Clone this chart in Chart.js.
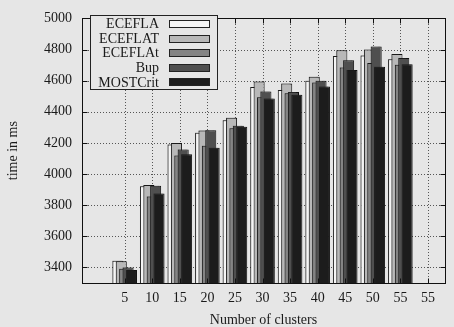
<!DOCTYPE html>
<html>
<head>
<meta charset="utf-8">
<script src="https://cdn.jsdelivr.net/npm/chart.js@4"></script>
<style>
  html, body { margin: 0; padding: 0; background: #e6e6e6; }
  canvas { display: block; }
</style>
</head>
<body>
<canvas id="myChart" width="454" height="327"></canvas>
<script>
const clusters = [5, 10, 15, 20, 25, 30, 35, 40, 45, 50, 55];
// the original plot repeats 55 on the last tick
const xTickLabels = ['5', '10', '15', '20', '25', '30', '35', '40', '45', '50', '55', '55'];
const yTicks = [3400, 3600, 3800, 4000, 4200, 4400, 4600, 4800, 5000];

const seriesNames = ['ECEFLA', 'ECEFLAT', 'ECEFLAt', 'Bup', 'MOSTCrit'];
const ecefla   = [3443, 3922, 4190, 4265, 4346, 4560, 4540, 4600, 4758, 4762, 4738];
const eceflaT  = [3440, 3930, 4199, 4279, 4361, 4594, 4581, 4625, 4796, 4800, 4771];
const eceflat  = [3391, 3856, 4119, 4181, 4294, 4494, 4519, 4588, 4685, 4714, 4702];
const bup      = [3400, 3925, 4158, 4281, 4310, 4531, 4527, 4600, 4731, 4819, 4746];
const mostCrit = [3383, 3875, 4127, 4169, 4304, 4485, 4510, 4562, 4669, 4689, 4706];

const fills = ['#f5f5f5', '#b8b8b8', '#848484', '#4f4f4f', '#1c1c1c'];
const font = '"Liberation Serif", "Times New Roman", serif';

const toPoints = vals => vals.map((v, i) => ({ x: i + 1, y: v }));

// dotted grid, then bars left to right so the darker ones sit in front
const frontOrder = {
  id: 'frontOrder',
  beforeDatasetsDraw(chart) {
    const { ctx, chartArea: a, scales } = chart;
    ctx.save();
    ctx.strokeStyle = '#555';
    ctx.lineWidth = 1;
    ctx.setLineDash([1, 2]);
    ctx.beginPath();
    yTicks.forEach(v => {
      const y = Math.round(scales.y.getPixelForValue(v)) + 0.5;
      ctx.moveTo(a.left, y); ctx.lineTo(a.right, y);
    });
    xTickLabels.forEach((_, i) => {
      const x = Math.round(scales.x.getPixelForValue(i + 1)) + 0.5;
      ctx.moveTo(x, a.bottom); ctx.lineTo(x, a.top);
    });
    ctx.stroke();
    ctx.restore();

    ctx.save();
    ctx.beginPath();
    ctx.rect(a.left, a.top, a.right - a.left, a.bottom - a.top);
    ctx.clip();
    ctx.shadowColor = 'rgba(60, 60, 60, 0.45)';
    ctx.shadowOffsetX = -2;
    ctx.shadowOffsetY = -2;
    ctx.shadowBlur = 1;
    chart.getSortedVisibleDatasetMetas().forEach(m => m.controller.draw());
    ctx.restore();
    return false;
  }
};

const frame = {
  id: 'frame',
  afterDraw(chart) {
    const { ctx, chartArea: a, scales } = chart;
    const l = Math.round(a.left) + 0.5, r = Math.round(a.right) + 0.5;
    const t = Math.round(a.top) + 0.5, b = Math.round(a.bottom) + 0.5;
    ctx.save();
    ctx.strokeStyle = '#111';
    ctx.lineWidth = 1;
    ctx.strokeRect(l, t, r - l, b - t);
    ctx.beginPath();
    yTicks.forEach(v => {
      const y = Math.round(scales.y.getPixelForValue(v)) + 0.5;
      ctx.moveTo(l, y); ctx.lineTo(l + 5, y);
      ctx.moveTo(r, y); ctx.lineTo(r - 5, y);
    });
    xTickLabels.forEach((_, i) => {
      const x = Math.round(scales.x.getPixelForValue(i + 1)) + 0.5;
      ctx.moveTo(x, b); ctx.lineTo(x, b - 5);
      ctx.moveTo(x, t); ctx.lineTo(x, t + 5);
    });
    ctx.stroke();
    ctx.restore();
  }
};

const boxLegend = {
  id: 'boxLegend',
  afterDraw(chart) {
    const ctx = chart.ctx;
    const x0 = 90.5, y0 = 15.5, w = 127, h = 74;
    ctx.save();
    ctx.fillStyle = '#e6e6e6';
    ctx.fillRect(x0, y0, w, h);
    ctx.strokeStyle = '#222';
    ctx.lineWidth = 1;
    ctx.strokeRect(x0, y0, w, h);
    ctx.font = '14px ' + font;
    ctx.textAlign = 'right';
    ctx.textBaseline = 'middle';
    chart.data.datasets.forEach((ds, i) => {
      const y = 23.5 + i * 14.6;
      ctx.fillStyle = '#1a1a1a';
      ctx.fillText(ds.label, 159, y + 1);
      ctx.fillStyle = ds.backgroundColor;
      ctx.fillRect(169.5, Math.round(y - 3.5) + 0.5, 40, 7);
      ctx.strokeRect(169.5, Math.round(y - 3.5) + 0.5, 40, 7);
    });
    ctx.restore();
  }
};

const series = [ecefla, eceflaT, eceflat, bup, mostCrit];

new Chart(document.getElementById('myChart'), {
  type: 'bar',
  data: {
    datasets: series.map((vals, i) => ({
      label: seriesNames[i],
      data: toPoints(vals),
      backgroundColor: fills[i],
      borderColor: '#111',
      borderWidth: 1,
      categoryPercentage: 0.615,
      barPercentage: 3.25
    }))
  },
  options: {
    responsive: false,
    animation: false,
    devicePixelRatio: 1,
    layout: { padding: { top: 11, right: 9, left: 0, bottom: 0 } },
    plugins: {
      legend: { display: false },
      tooltip: { enabled: false }
    },
    scales: {
      x: {
        type: 'linear',
        min: 0,
        max: 12.07,
        afterBuildTicks: axis => { axis.ticks = xTickLabels.map((_, i) => ({ value: i + 1 })); },
        afterFit: axis => { axis.height = 44; },
        grid: { display: false, drawTicks: false },
        border: { display: false },
        ticks: {
          autoSkip: false,
          maxRotation: 0,
          padding: 7,
          color: '#1a1a1a',
          font: { family: font, size: 14 },
          callback: (v, i) => xTickLabels[i]
        },
        title: {
          display: true,
          text: 'Number of clusters',
          color: '#1a1a1a',
          font: { family: font, size: 14, lineHeight: 1 },
          padding: 0
        }
      },
      y: {
        min: 3300,
        max: 5000,
        afterBuildTicks: axis => { axis.ticks = yTicks.map(v => ({ value: v })); },
        afterFit: axis => { axis.width = 82; },
        grid: { display: false, drawTicks: false },
        border: { display: false },
        ticks: {
          padding: 10,
          color: '#1a1a1a',
          font: { family: font, size: 14 },
          callback: v => String(v)
        },
        title: {
          display: true,
          text: 'time in ms',
          color: '#1a1a1a',
          font: { family: font, size: 14, lineHeight: 1 },
          padding: { top: 6, bottom: 0 }
        }
      }
    }
  },
  plugins: [frontOrder, frame, boxLegend]
});
</script>
</body>
</html>
